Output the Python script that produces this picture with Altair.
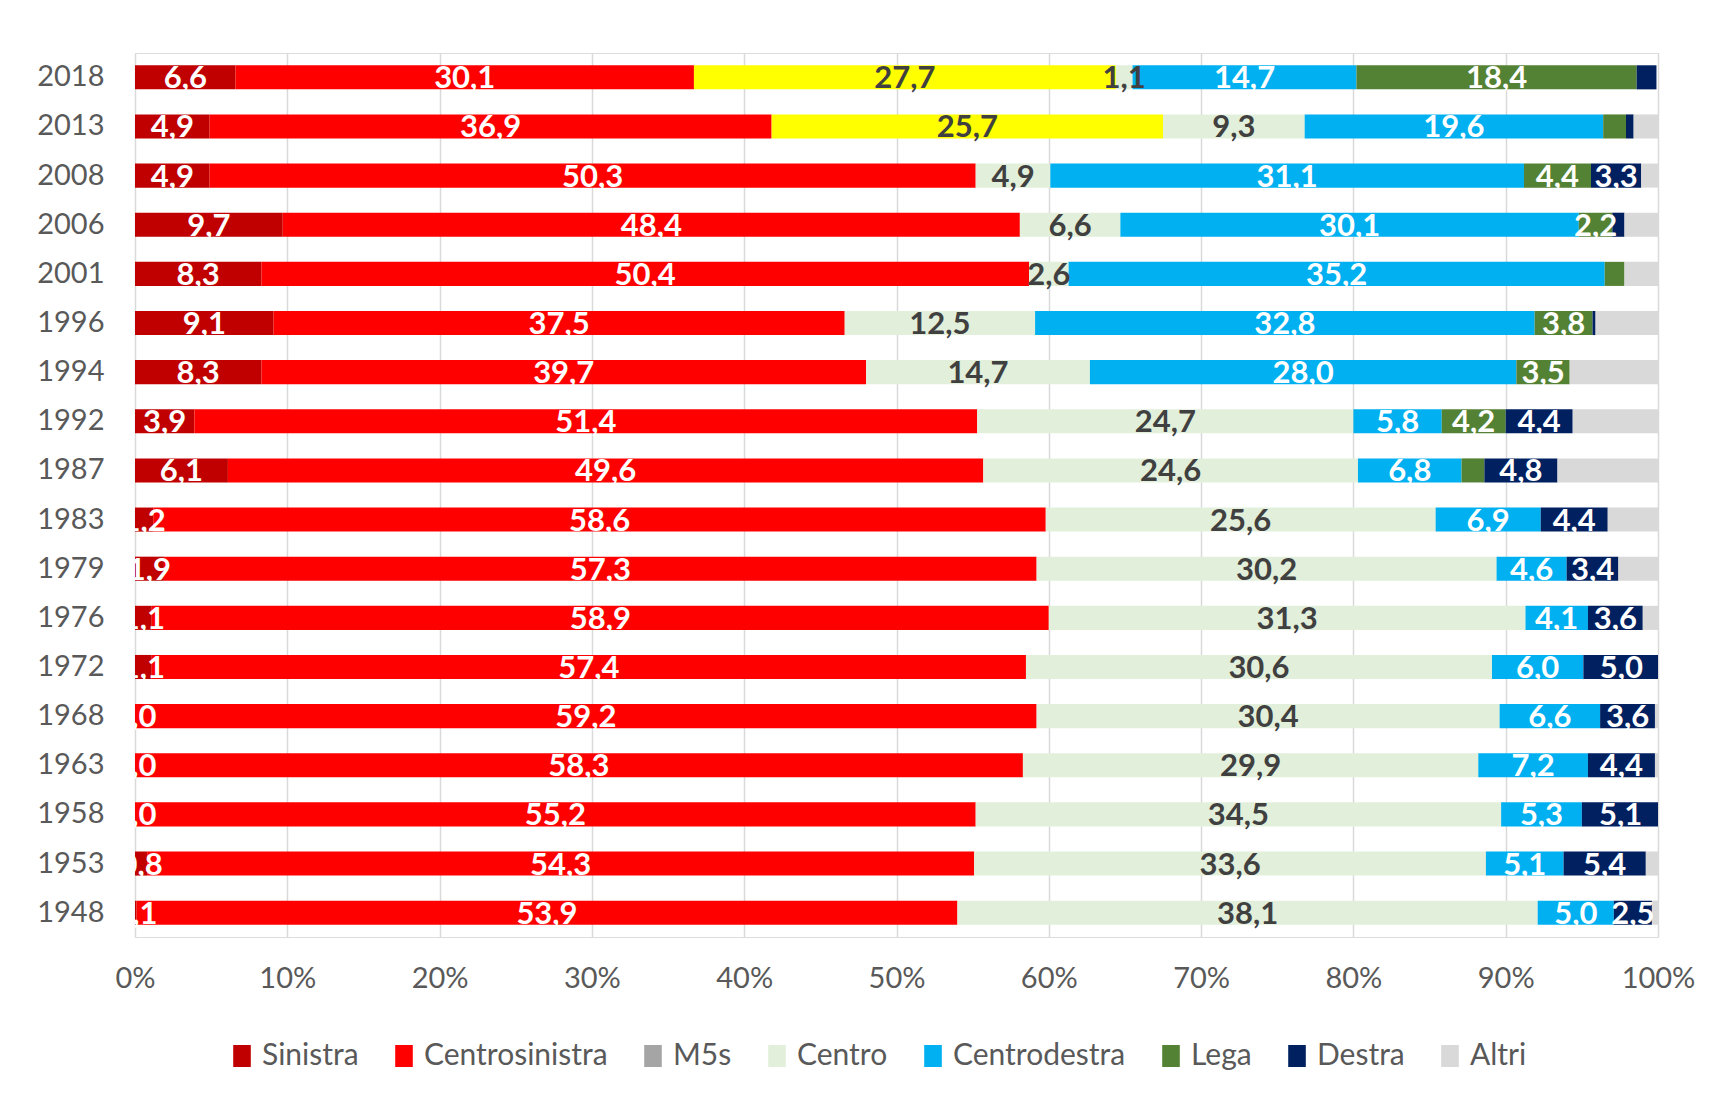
import altair as alt
import pandas as pd

years = ["2018", "2013", "2008", "2006", "2001", "1996", "1994", "1992", "1987",
         "1983", "1979", "1976", "1972", "1968", "1963", "1958", "1953", "1948"]
series = ["Sinistra", "Centrosinistra", "M5s", "Centro", "Centrodestra", "Lega", "Destra", "Altri"]
legend_colors = ["#C00000", "#FF0000", "#A5A5A5", "#E2EFDA", "#00B0F0", "#548235", "#002060", "#D9D9D9"]
m5s_bar_color = "#FFFF00"

sinistra = [6.6, 4.9, 4.9, 9.7, 8.3, 9.1, 8.3, 3.9, 6.1, 1.2, 1.9, 1.1, 1.1, 0.0, 0.0, 0.0, 0.8, 0.1]
centrosinistra = [30.1, 36.9, 50.3, 48.4, 50.4, 37.5, 39.7, 51.4, 49.6, 58.6, 57.3, 58.9, 57.4, 59.2, 58.3, 55.2, 54.3, 53.9]
m5s = [27.7, 25.7, 0, 0, 0, 0, 0, 0, 0, 0, 0, 0, 0, 0, 0, 0, 0, 0]
centro = [1.1, 9.3, 4.9, 6.6, 2.6, 12.5, 14.7, 24.7, 24.6, 25.6, 30.2, 31.3, 30.6, 30.4, 29.9, 34.5, 33.6, 38.1]
centrodestra = [14.7, 19.6, 31.1, 30.1, 35.2, 32.8, 28.0, 5.8, 6.8, 6.9, 4.6, 4.1, 6.0, 6.6, 7.2, 5.3, 5.1, 5.0]
lega = [18.4, 1.5, 4.4, 2.2, 1.3, 3.8, 3.5, 4.2, 1.5, 0, 0, 0, 0, 0, 0, 0, 0, 0]
destra = [1.3, 0.5, 3.3, 0.8, 0.0, 0.2, 0.0, 4.4, 4.8, 4.4, 3.4, 3.6, 5.0, 3.6, 4.4, 5.1, 5.4, 2.5]
altri = [0.0, 1.6, 1.1, 2.2, 2.2, 4.1, 5.8, 5.6, 6.6, 3.3, 2.6, 1.0, 0.0, 0.2, 0.2, 0.0, 0.8, 0.4]

values = [sinistra, centrosinistra, m5s, centro, centrodestra, lega, destra, altri]

rows = []
for si, (name, vals) in enumerate(zip(series, values)):
    for yr, v in zip(years, vals):
        show = name != "Altri" and (v >= 2 or name in ("Sinistra", "Centro"))
        label = f"{v:.1f}".replace(".", ",") if show else ""
        rows.append({"year": yr, "series": name, "order": si, "value": v, "label": label})
df = pd.DataFrame(rows)

FONT = "Lato"
TXT = "#595959"

y_enc = alt.Y(
    "year:N", sort=years,
    scale=alt.Scale(paddingInner=0.51, paddingOuter=0.25),
    axis=alt.Axis(title=None, domain=False, ticks=False, labelFont=FONT, labelFontSize=29,
                  labelColor=TXT, labelPadding=31, minExtent=122, maxExtent=122),
)

base = alt.Chart(df).transform_stack(
    stack="value", groupby=["year"], as_=["x0", "x1"],
    sort=[alt.SortField("order", order="ascending")],
).transform_calculate(mid="(datum.x0 + datum.x1) / 2")

bars = base.mark_bar(clip=True).encode(
    y=y_enc,
    x=alt.X("x0:Q", scale=alt.Scale(domain=[0, 100], nice=False),
            axis=alt.Axis(title=None, values=list(range(0, 101, 10)),
                          labelExpr="datum.value + '%'", grid=True, gridColor="#D9D9D9",
                          gridWidth=1.5, domain=False, ticks=False, labelFont=FONT,
                          labelFontSize=29, labelPadding=27, labelColor=TXT,
                          labelFlush=False)),
    x2="x1:Q",
    color=alt.condition(
        "datum.series === 'M5s'",
        alt.value(m5s_bar_color),
        alt.Color("series:N", scale=alt.Scale(domain=series, range=legend_colors),
                  legend=alt.Legend(title=None, orient="none", legendX=92, legendY=988,
                                    direction="horizontal", columns=8,
                                    symbolType="M-0.8,-1H0.8V1H-0.8Z", symbolSize=484,
                                    symbolStrokeWidth=0, labelFont=FONT, labelFontSize=30,
                                    labelColor=TXT, columnPadding=30, labelOffset=5,
                                    labelLimit=0)),
    ),
)

texts = base.transform_filter("datum.label != ''").mark_text(
    font=FONT, fontWeight="bold", fontSize=31, baseline="alphabetic", dy=11, clip=True
).encode(
    y=y_enc,
    x=alt.X("mid:Q"),
    text="label:N",
    color=alt.condition("datum.series === 'M5s' || datum.series === 'Centro'",
                        alt.value("#404040"), alt.value("white")),
)

chart = alt.layer(bars, texts).properties(
    width=1523, height=884,
    padding={"left": 5, "top": 45, "right": 5, "bottom": 5},
).configure_view(stroke=None).configure(font=FONT)

chart.save("out.html", embed_options={"renderer": "svg", "actions": False})
